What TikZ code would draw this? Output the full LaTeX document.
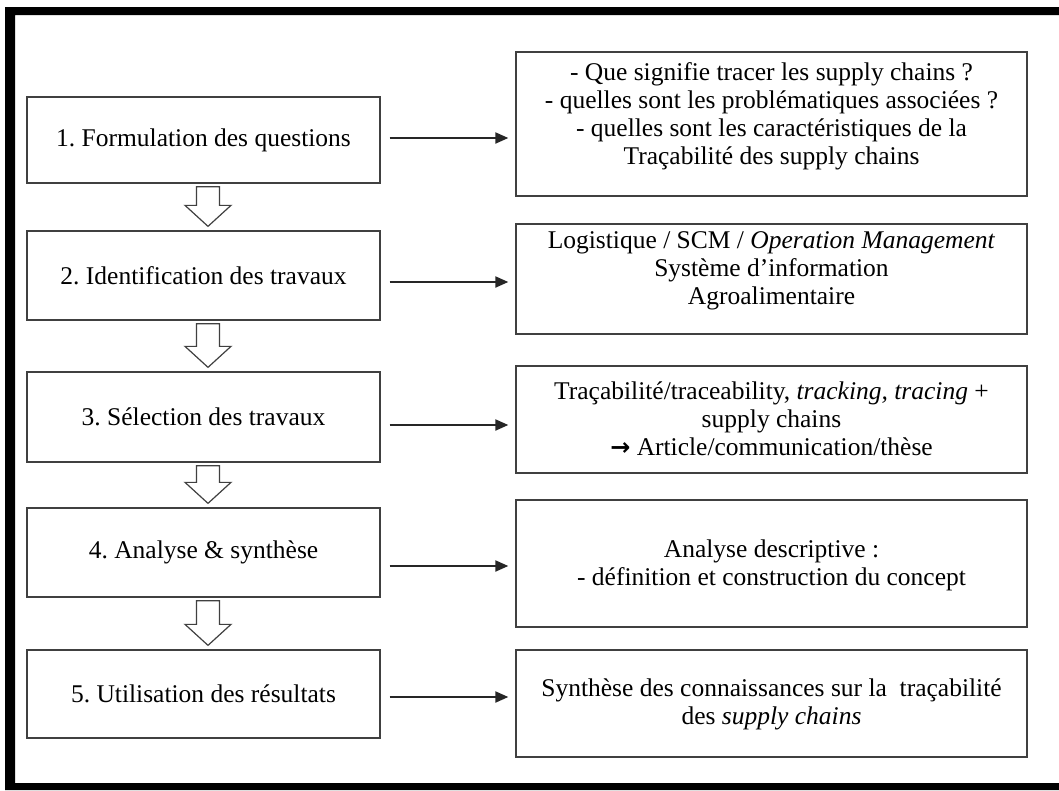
\documentclass[tikz,border=0pt]{standalone}
\usepackage{fontspec}
\setmainfont{Liberation Serif}
\newfontfamily\arrowfont{DejaVu Sans}
\usetikzlibrary{arrows.meta,calc}
\frenchspacing

% hollow block arrow between two stacked step boxes
\newcommand\stepflow[2]{%
  \draw[hollow] let \p1=(#1.south), \p2=(#2.north) in
    ({\x1-7pt},{\y1-3pt}) -- ({\x1+16pt},{\y1-3pt}) -- ({\x1+16pt},{\y2+25pt})
    -- ({\x1+27.5pt},{\y2+25pt}) -- ({\x1+4.5pt},{\y2+4pt})
    -- ({\x1-18.5pt},{\y2+25pt}) -- ({\x1-7pt},{\y2+25pt}) -- cycle;}

\begin{document}
\begin{tikzpicture}[x=1pt,y=-1pt,
  every node/.style={font=\fontsize{25.5}{28}\selectfont},
  lbox/.style={draw=black!75, line width=1.3pt, minimum width=353pt, inner sep=0pt},
  rbox/.style={draw=black!75, line width=1.3pt, minimum width=511pt, inner sep=0pt},
  rtext/.style={align=center, inner sep=0pt},
  link/.style={draw=black!85, line width=2pt, shorten >=7pt,
               -{Triangle[length=13pt,width=11pt]}},
  hollow/.style={draw=black!75, line width=1.2pt, fill=white, line join=miter}]

\useasboundingbox (0,0) rectangle (1059,790);

% heavy outer frame
\fill[black, even odd rule] (5,7) rectangle (1059,790) (15,15) rectangle (1059,783);

% steps of the method
\node[lbox, minimum height=86pt] (l1) at (203.5,140)   {1. Formulation des questions};
\node[lbox, minimum height=89pt] (l2) at (203.5,275.5) {2. Identification des travaux};
\node[lbox, minimum height=90pt] (l3) at (203.5,417)   {3. Sélection des travaux};
\node[lbox, minimum height=89pt] (l4) at (203.5,552.5) {4. Analyse \& synthèse};
\node[lbox, minimum height=88pt] (l5) at (203.5,694)   {5. Utilisation des résultats};

% detail boxes
\node[rbox, minimum height=144pt] (r1) at (771.5,124)   {};
\node[rbox, minimum height=110pt] (r2) at (771.5,279)   {};
\node[rbox, minimum height=107pt] (r3) at (771.5,419.5) {};
\node[rbox, minimum height=127pt] (r4) at (771.5,563.5) {};
\node[rbox, minimum height=107pt] (r5) at (771.5,703.5) {};

\node[rtext] (t1) at (771.5,116) {- Que signifie tracer les supply chains ?\\
  - quelles sont les problématiques associées ?\\
  - quelles sont les caractéristiques de la\\
  Traçabilité des supply chains};
\node[rtext] (t2) at (771.5,271) {Logistique / SCM / \textit{Operation Management}\\
  Système d’information\\ Agroalimentaire};
\node[rtext] (t3) at (771.5,419) {Traçabilité/traceability, \textit{tracking, tracing} +\\
  supply chains\\ {\arrowfont\bfseries\fontsize{24}{28}\selectfont →} Article/communication/thèse};
\node[rtext] (t4) at (771.5,565) {Analyse descriptive :\\
  - définition et construction du concept};
\node[rtext] (t5) at (771.5,704) {Synthèse des connaissances sur la~ traçabilité\\
  des \textit{supply chains}};

% flow between steps
\stepflow{l1}{l2}
\stepflow{l2}{l3}
\stepflow{l3}{l4}
\stepflow{l4}{l5}

% links from each step to its details
\coordinate (s1) at ([xshift=9pt,yshift=2pt]l1.east);
\coordinate (s2) at ([xshift=9pt,yshift=-6.5pt]l2.east);
\coordinate (s3) at ([xshift=9pt,yshift=-8pt]l3.east);
\coordinate (s4) at ([xshift=9pt,yshift=-13.5pt]l4.east);
\coordinate (s5) at ([xshift=9pt,yshift=-3pt]l5.east);
\draw[link] (s1) -- (s1 -| r1.west);
\draw[link] (s2) -- (s2 -| r2.west);
\draw[link] (s3) -- (s3 -| r3.west);
\draw[link] (s4) -- (s4 -| r4.west);
\draw[link] (s5) -- (s5 -| r5.west);
\end{tikzpicture}
\end{document}
